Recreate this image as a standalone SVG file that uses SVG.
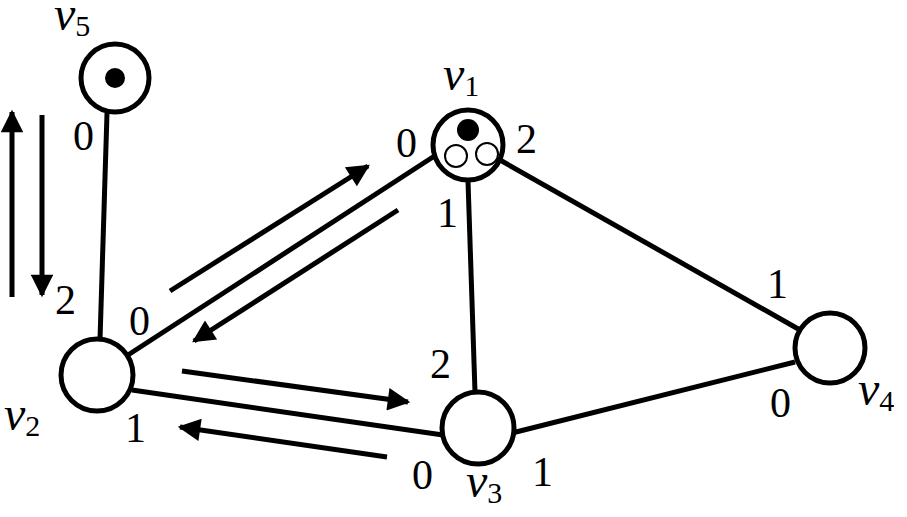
<svg xmlns="http://www.w3.org/2000/svg" width="907" height="517" viewBox="0 0 907 517">
<style>
.e{stroke:#000;stroke-width:5;fill:none}
.n{fill:#fff;stroke:#000;stroke-width:5}
.s{fill:#fff;stroke:#000;stroke-width:2}
text{font-family:"Liberation Serif","DejaVu Serif",serif;font-size:42px}
.v{font-style:italic;font-size:48px}
.sub{font-size:30px;font-style:normal}
</style>
<defs><marker id="ah2" viewBox="0 0 10 10" refX="9" refY="5" markerWidth="6" markerHeight="4.5" orient="auto"><path d="M0,0 L10,5 L0,10 Z" fill="#000"/></marker></defs>
<g id="connectors">
<line class="e" x1="107" y1="113" x2="100" y2="340"/>
<line class="e" x1="128" y1="355" x2="436" y2="155"/>
<line class="e" x1="468" y1="181" x2="475" y2="392"/>
<line class="e" x1="500" y1="160" x2="800" y2="330"/>
<line class="e" x1="132" y1="390" x2="443" y2="435"/>
<line class="e" x1="512" y1="433" x2="795" y2="362"/>
</g>
<g id="arrows">
<line class="e" x1="12" y1="297" x2="12" y2="112" marker-end="url(#ah2)"/>
<line class="e" x1="42" y1="115" x2="42" y2="295" marker-end="url(#ah2)"/>
<line class="e" x1="170" y1="291" x2="368" y2="166" marker-end="url(#ah2)"/>
<line class="e" x1="398" y1="210" x2="194" y2="341" marker-end="url(#ah2)"/>
<line class="e" x1="182" y1="371" x2="408" y2="402" marker-end="url(#ah2)"/>
<line class="e" x1="387" y1="457" x2="180" y2="427" marker-end="url(#ah2)"/>
</g>
<g id="v5"><circle class="n" cx="115" cy="78" r="34"/><circle cx="115" cy="78" r="10"/><text x="54" y="30" class="v">v<tspan class="sub" dy="6">5</tspan></text></g>
<g id="v1"><circle class="n" cx="468" cy="145" r="35"/><circle cx="468" cy="130" r="11"/><circle class="s" cx="456" cy="156" r="11"/><circle class="s" cx="487" cy="154" r="11"/><text x="443" y="90" class="v">v<tspan class="sub" dy="6">1</tspan></text></g>
<g id="v2"><circle class="n" cx="97" cy="375" r="36"/><text x="4" y="430" class="v">v<tspan class="sub" dy="6">2</tspan></text></g>
<g id="v3"><circle class="n" cx="478" cy="428" r="36"/><text x="466" y="497" class="v">v<tspan class="sub" dy="6">3</tspan></text></g>
<g id="v4"><circle class="n" cx="830" cy="348" r="35"/><text x="858" y="405" class="v">v<tspan class="sub" dy="6">4</tspan></text></g>
<g id="ports">
<text x="73" y="150">0</text>
<text x="55" y="314">2</text>
<text x="129" y="335">0</text>
<text x="125" y="442">1</text>
<text x="396" y="157">0</text>
<text x="516" y="153">2</text>
<text x="437" y="227">1</text>
<text x="430" y="378">2</text>
<text x="412" y="489">0</text>
<text x="532" y="486">1</text>
<text x="767" y="298">1</text>
<text x="770" y="417">0</text>
</g>
</svg>
